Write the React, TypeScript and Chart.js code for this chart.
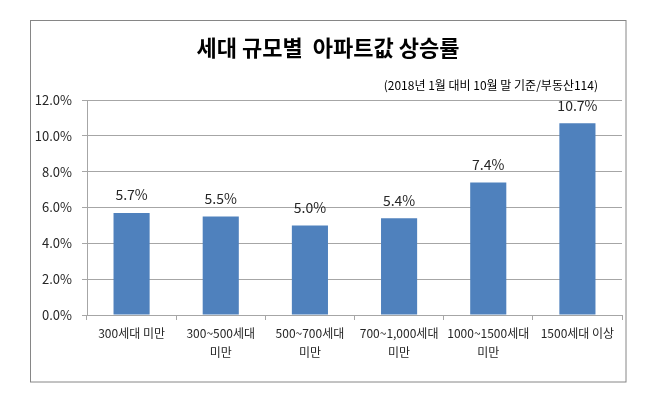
import React, { useEffect, useRef } from "react";
import { Chart, registerables } from "chart.js";

Chart.register(...registerables);

const categories: (string | string[])[] = [
  "300세대 미만",
  ["300~500세대", "미만"],
  ["500~700세대", "미만"],
  ["700~1,000세대", "미만"],
  ["1000~1500세대", "미만"],
  "1500세대 이상",
];
const riseRates: number[] = [5.7, 5.5, 5.0, 5.4, 7.4, 10.7];
const titleText = "세대 규모별  아파트값 상승률";
const subtitleText = "(2018년 1월 대비 10월 말 기준/부동산114)";
const yMax = 12;
const yStep = 2;

const FONT = '"Noto Sans CJK KR", "Noto Sans", sans-serif';

const decorPlugin = {
  id: "decor",
  beforeDraw(chart: any) {
    const ctx = chart.ctx;
    ctx.save();
    ctx.fillStyle = "#ffffff";
    ctx.fillRect(0, 0, chart.width, chart.height);
    ctx.strokeStyle = "#868686";
    ctx.lineWidth = 1;
    ctx.strokeRect(30.5, 20.5, 595.5, 361.5);
    ctx.restore();
  },
  afterDraw(chart: any) {
    const ctx = chart.ctx;
    ctx.save();
    ctx.fillStyle = "#000000";
    ctx.font = `bold 22px ${FONT}`;
    ctx.textAlign = "center";
    ctx.textBaseline = "middle";
    ctx.fillText(titleText, 328, 48);
    ctx.font = `12px ${FONT}`;
    ctx.textAlign = "right";
    ctx.fillText(subtitleText, 598, 85);
    // data labels
    const meta = chart.getDatasetMeta(0);
    ctx.font = `14px ${FONT}`;
    ctx.textAlign = "center";
    ctx.fillStyle = "#262626";
    meta.data.forEach((bar: any, i: number) => {
      ctx.fillText(riseRates[i].toFixed(1) + "%", bar.x, bar.y - 18);
    });
    ctx.restore();
  },
};

export default function App() {
  const ref = useRef<HTMLCanvasElement>(null);
  useEffect(() => {
    if (!ref.current) return;
    const chart = new Chart(ref.current, {
      type: "bar",
      data: {
        labels: categories,
        datasets: [
          {
            data: riseRates,
            backgroundColor: "#4f81bd",
            borderWidth: 0,
            categoryPercentage: 1,
            barPercentage: 0.405,
          },
        ],
      },
      options: {
        animation: false,
        responsive: false,
        devicePixelRatio: 1,
        layout: { padding: { left: 31, right: 35, top: 100, bottom: 0 } },
        plugins: {
          legend: { display: false },
          tooltip: { enabled: false },
          title: { display: false },
        },
        scales: {
          x: {
            grid: {
              display: true,
              drawOnChartArea: false,
              drawTicks: true,
              tickLength: 5,
              color: "#a6a6a6",
              offset: true,
            },
            border: { display: true, color: "#a6a6a6" },
            ticks: {
              font: { family: FONT, size: 12, lineHeight: 1.6 },
              color: "#262626",
              padding: 4,
              maxRotation: 0,
              autoSkip: false,
            },
            afterFit(scale: any) {
              scale.height = 86;
            },
          },
          y: {
            min: 0,
            max: yMax,
            ticks: {
              stepSize: yStep,
              font: { family: FONT, size: 13 },
              color: "#262626",
              padding: 10,
              callback: (v: any) => Number(v).toFixed(1) + "%",
            },
            grid: {
              color: "#a6a6a6",
              tickLength: 5,
              drawTicks: true,
            },
            border: { display: true, color: "#a6a6a6" },
            afterFit(scale: any) {
              scale.width = 56;
            },
          },
        },
      },
      plugins: [decorPlugin],
    });
    return () => chart.destroy();
  }, []);
  return (
    <div style={{ position: "fixed", left: 0, top: 0, width: 657, height: 401, background: "#fff" }}>
      <canvas ref={ref} width={657} height={401} style={{ width: 657, height: 401, display: "block" }} />
    </div>
  );
}
